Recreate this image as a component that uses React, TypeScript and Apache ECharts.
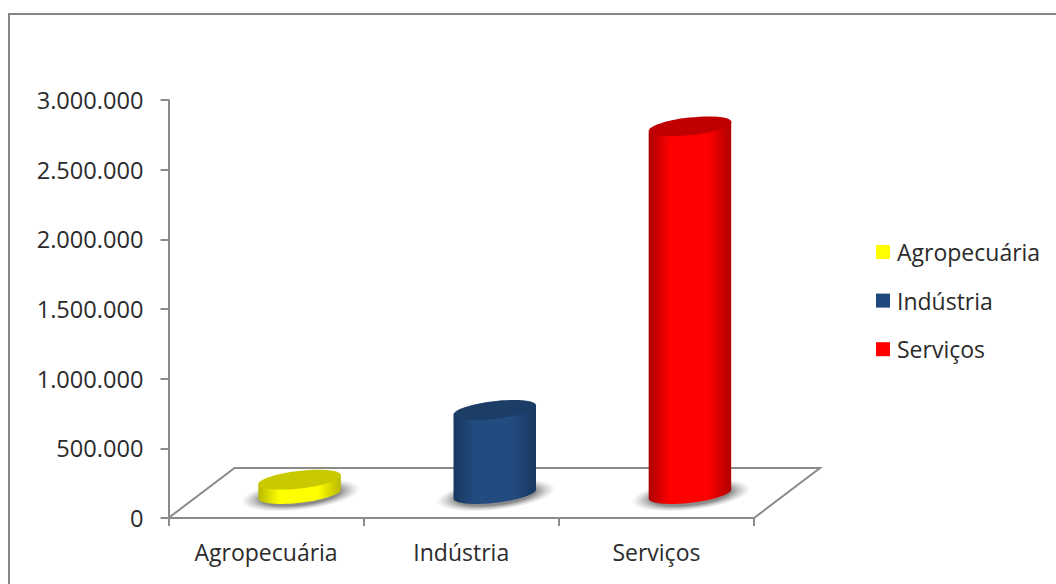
import { useEffect, useRef } from "react";
import * as echarts from "echarts";

const categories = ["Agropecuária", "Indústria", "Serviços"];
const values = [105000, 605000, 2640000];
const yTicks = [0, 500000, 1000000, 1500000, 2000000, 2500000, 3000000];

const AXIS_COLOR = "#8a8a8a";
const TEXT_COLOR = "#2b2b2b";
const FONT = "Open Sans";
const FONT_SIZE = 23;
const Y_FONT_SIZE = 23.6;

// Oblique floor depth, in pixels, from the front edge of the plot to the back edge.
const DEPTH_X = 66;
const DEPTH_Y = -50;
const RX = 41.5;
const RY = 8.8;
const TILT = (-6.5 * Math.PI) / 180;

const palette = [
  { edge: "#b8b800", mid: "#ffff00", top: "#c9c900" },
  { edge: "#17375e", mid: "#224b80", top: "#1b3d66" },
  { edge: "#ad0000", mid: "#ff0000", top: "#c00000" },
];

function ellipsePoint(cx: number, cy: number, a: number, b: number, t: number) {
  const c = Math.cos(TILT);
  const s = Math.sin(TILT);
  return [
    cx + a * Math.cos(t) * c - b * Math.sin(t) * s,
    cy + a * Math.cos(t) * s + b * Math.sin(t) * c,
  ];
}

function cylinder(colors: (typeof palette)[number]) {
  return (_params: any, api: any) => {
    const base = api.coord([api.value(0), 0]);
    const top = api.coord([api.value(0), api.value(1)]);
    const cx = base[0] + DEPTH_X / 2 + 0.5;
    const baseY = base[1] + DEPTH_Y / 2 + 1;
    const topY = top[1] + DEPTH_Y / 2 + 1;

    // The silhouette runs between the two points where the tilted ellipse is widest.
    const t0 = Math.atan2(-RY * Math.sin(TILT), RX * Math.cos(TILT));
    const arc: number[][] = [];
    for (let i = 0; i <= 40; i++) {
      arc.push(ellipsePoint(cx, baseY, RX, RY, t0 + Math.PI - (i / 40) * Math.PI));
    }
    const body = [
      ellipsePoint(cx, topY, RX, RY, t0 + Math.PI),
      ...arc,
      ellipsePoint(cx, topY, RX, RY, t0),
    ];

    return {
      type: "group",
      children: [
        {
          type: "ellipse",
          originX: cx,
          originY: baseY + 1,
          rotation: -TILT,
          shape: { cx: cx + 1, cy: baseY + 1, rx: 60, ry: 15 },
          style: {
            fill: new echarts.graphic.RadialGradient(0.5, 0.5, 0.5, [
              { offset: 0, color: "rgba(110,110,110,0.85)" },
              { offset: 0.66, color: "rgba(110,110,110,0.8)" },
              { offset: 1, color: "rgba(170,170,170,0)" },
            ]),
          },
        },
        {
          type: "polygon",
          shape: { points: body },
          style: {
            fill: new echarts.graphic.LinearGradient(0, 0, 1, 0, [
              { offset: 0, color: colors.edge },
              { offset: 0.26, color: colors.mid },
              { offset: 0.72, color: colors.mid },
              { offset: 1, color: colors.edge },
            ]),
          },
        },
        {
          type: "ellipse",
          originX: cx,
          originY: topY,
          rotation: -TILT,
          shape: { cx, cy: topY, rx: RX, ry: RY },
          style: { fill: colors.top },
        },
      ],
    };
  };
}

// Floor of the oblique plot: left edge, back edge and right edge.
function renderFloor(params: any) {
  const { x, y, width, height } = params.coordSys;
  const bottom = y + height;
  return {
    type: "polyline",
    shape: {
      points: [
        [x, bottom],
        [x + DEPTH_X, bottom + DEPTH_Y],
        [x + width + DEPTH_X, bottom + DEPTH_Y],
        [x + width, bottom],
      ],
    },
    style: { stroke: AXIS_COLOR, lineWidth: 2, fill: "none" },
  };
}

export default function App() {
  const ref = useRef<HTMLDivElement>(null);

  useEffect(() => {
    const chart = echarts.init(ref.current!, null, { renderer: "svg" });
    chart.setOption({
      animation: false,
      backgroundColor: "#ffffff",
      textStyle: { fontFamily: FONT },
      graphic: [
        {
          type: "polyline",
          silent: true,
          shape: { points: [[9, 584], [9, 14], [1056, 14]] },
          style: { stroke: "#868686", lineWidth: 2, fill: "none" },
        },
      ],
      grid: { left: 168.5, right: 302, top: 100, bottom: 66, containLabel: false },
      legend: {
        orient: "vertical",
        left: 876,
        top: 240.5,
        padding: 0,
        itemWidth: 14,
        itemHeight: 14,
        itemGap: 25.6,
        icon: "rect",
        data: categories,
        textStyle: { fontFamily: FONT, fontSize: FONT_SIZE, color: TEXT_COLOR, padding: [0, 0, 0, 2] },
      },
      xAxis: {
        type: "category",
        data: categories,
        axisLine: { lineStyle: { color: AXIS_COLOR, width: 2 } },
        axisTick: { show: true, length: 8, alignWithLabel: false, lineStyle: { color: AXIS_COLOR, width: 2 } },
        axisLabel: { fontFamily: FONT, fontSize: FONT_SIZE, color: TEXT_COLOR, margin: 22 },
      },
      yAxis: {
        type: "value",
        min: yTicks[0],
        max: yTicks[yTicks.length - 1],
        interval: yTicks[1],
        splitLine: { show: false },
        axisLine: { show: true, lineStyle: { color: AXIS_COLOR, width: 2 } },
        axisTick: { show: true, length: 8, lineStyle: { color: AXIS_COLOR, width: 2 } },
        axisLabel: {
          fontFamily: FONT,
          fontSize: Y_FONT_SIZE,
          color: TEXT_COLOR,
          margin: 25,
          formatter: (v: number) => v.toLocaleString("de-DE"),
        },
      },
      series: [
        {
          type: "custom",
          name: "floor",
          silent: true,
          clip: false,
          data: [[0, 0]],
          encode: { x: 0, y: 1 },
          renderItem: renderFloor,
        },
        ...categories.map((name, i) => ({
          type: "custom",
          name,
          silent: true,
          clip: false,
          itemStyle: { color: i === 1 ? "#1f497d" : palette[i].mid },
          data: [[i, values[i]]],
          encode: { x: 0, y: 1 },
          renderItem: cylinder(palette[i]),
        })),
      ],
    });
    return () => chart.dispose();
  }, []);

  return (
    <div
      ref={ref}
      style={{ position: "absolute", left: 0, top: 0, width: 1056, height: 584 }}
    />
  );
}
